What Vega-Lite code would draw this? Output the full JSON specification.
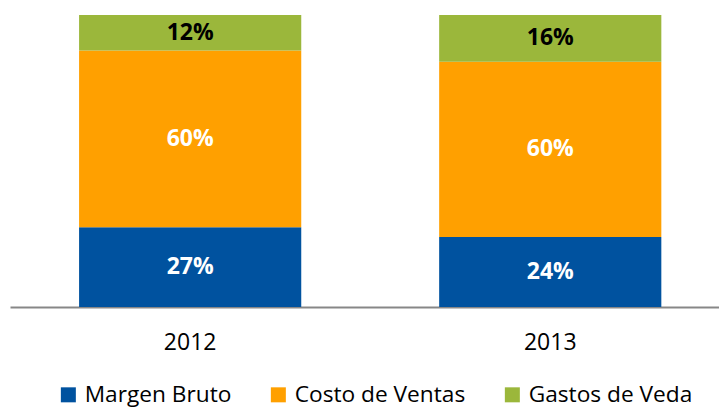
{
  "$schema": "https://vega.github.io/schema/vega-lite/v6.json",
  "width": 709,
  "height": 292,
  "autosize": {"type": "none"},
  "padding": {"left": 10, "top": 15, "right": 0, "bottom": 101},
  "background": "white",
  "config": {
    "font": "Open Sans",
    "view": {"stroke": null}
  },
  "data": {
    "values": [
      {"year": "2012", "cat": "Margen Bruto", "ord": 1, "v": 0.27},
      {"year": "2012", "cat": "Costo de Ventas", "ord": 2, "v": 0.60},
      {"year": "2012", "cat": "Gastos de Veda", "ord": 3, "v": 0.12},
      {"year": "2013", "cat": "Margen Bruto", "ord": 1, "v": 0.24},
      {"year": "2013", "cat": "Costo de Ventas", "ord": 2, "v": 0.60},
      {"year": "2013", "cat": "Gastos de Veda", "ord": 3, "v": 0.16}
    ]
  },
  "encoding": {
    "x": {
      "field": "year",
      "type": "nominal",
      "title": null,
      "scale": {"paddingInner": 0.383, "paddingOuter": 0.176, "align": 0.545},
      "axis": {
        "labelAngle": 0,
        "labelFontSize": 23,
        "labelColor": "#000000",
        "labelPadding": 24,
        "ticks": false,
        "domainColor": "#878787",
        "domainWidth": 2,
        "grid": false
      }
    }
  },
  "layer": [
    {
      "mark": {"type": "bar"},
      "encoding": {
        "y": {"field": "v", "type": "quantitative", "stack": "normalize", "axis": null},
        "order": {"field": "ord", "type": "quantitative"},
        "color": {
          "field": "cat",
          "type": "nominal",
          "sort": ["Margen Bruto", "Costo de Ventas", "Gastos de Veda"],
          "scale": {
            "domain": ["Margen Bruto", "Costo de Ventas", "Gastos de Veda"],
            "range": ["#00529F", "#FFA000", "#9BB73B"]
          },
          "legend": {
            "title": null,
            "orient": "none",
            "direction": "horizontal",
            "columns": 3,
            "legendX": 47,
            "legendY": 368,
            "padding": 0,
            "symbolType": "square",
            "symbolSize": 225,
            "symbolStrokeWidth": 0,
            "symbolOpacity": 1,
            "labelFontSize": 22.7,
            "labelColor": "#000000",
            "labelOffset": 5,
            "columnPadding": 35,
            "labelLimit": 300
          }
        }
      }
    },
    {
      "mark": {"type": "text", "fontSize": 23, "fontWeight": "bold", "baseline": "middle"},
      "encoding": {
        "y": {"field": "v", "type": "quantitative", "stack": "normalize", "bandPosition": 0.5},
        "order": {"field": "ord", "type": "quantitative"},
        "text": {"field": "v", "type": "quantitative", "format": ".0%"},
        "color": {
          "condition": {"test": "datum.cat === 'Gastos de Veda'", "value": "#000000"},
          "value": "#FFFFFF"
        }
      }
    }
  ]
}
